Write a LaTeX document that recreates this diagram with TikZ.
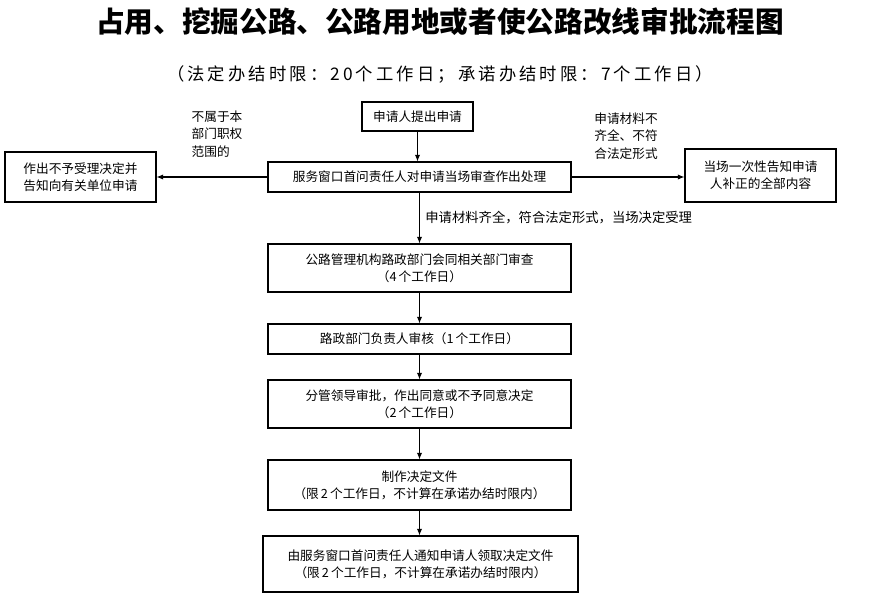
\documentclass[tikz,border=0pt]{standalone}
\usepackage{fontspec}
\setmainfont{Noto Sans CJK SC}
\usetikzlibrary{arrows.meta}
\begin{document}
\begin{tikzpicture}[x=0.75pt,y=-0.75pt,
  bx/.style={draw,thick,align=center,inner sep=0pt,font=\fontsize{9.5pt}{13pt}\selectfont},
  lb/.style={align=left,font=\fontsize{9.5pt}{13pt}\selectfont,inner sep=0pt},
  ar/.style={-{Latex[length=5pt,width=4pt]},thick}]
\useasboundingbox (0,0) rectangle (872,603);
\node[font=\bfseries\fontsize{21.5pt}{24pt}\selectfont] (t) at (440,22) {占用、挖掘公路、公路用地或者使公路改线审批流程图};
\node[font=\fontsize{13pt}{15pt}\selectfont\addfontfeature{LetterSpace=18}] (st) at (440,74) {（法定办结时限：20\,个工作日；承诺办结时限：7\,个工作日）};
\node[bx,minimum width=83.25pt,minimum height=21.75pt] (a) at (417.5,116.5) {申请人提出申请};
\node[bx,minimum width=227.25pt,minimum height=22.5pt] (b) at (419.5,177) {服务窗口首问责任人对申请当场审查作出处理};
\node[bx,minimum width=113.25pt,minimum height=37.5pt] (l) at (80.5,177) {作出不予受理决定并\\告知向有关单位申请};
\node[bx,minimum width=113.25pt,minimum height=39.75pt] (r) at (760.5,175.5) {当场一次性告知申请\\人补正的全部内容};
\node[lb] (ll) at (217,134) {不属于本\\部门职权\\范围的};
\node[lb] (rl) at (626,136) {申请材料不\\齐全、不符\\合法定形式};
\node[bx,minimum width=227.25pt,minimum height=36pt] (c) at (419.5,268) {公路管理机构路政部门会同相关部门审查\\（4\,个工作日）};
\node[bx,minimum width=227.25pt,minimum height=22.5pt] (d) at (419.5,339) {路政部门负责人审核（1\,个工作日）};
\node[bx,minimum width=227.25pt,minimum height=36pt] (e) at (419.5,404) {分管领导审批，作出同意或不予同意决定\\（2\,个工作日）};
\node[bx,minimum width=227.25pt,minimum height=37.5pt] (f) at (419.5,485) {制作决定文件\\（限\,2\,个工作日，不计算在承诺办结时限内）};
\node[bx,minimum width=236.25pt,minimum height=42pt] (g) at (420.5,564) {由服务窗口首问责任人通知申请人领取决定文件\\（限\,2\,个工作日，不计算在承诺办结时限内）};
\draw[ar] (a.south) -- (a.south|-b.north);
\draw[ar] (b.west) -- (l.east|-b.west);
\draw[ar] (b.east) -- (r.west|-b.east);
\draw[ar] (b.south) -- (c.north) node[pos=0.5,right=4pt,lb,font=\fontsize{10pt}{13pt}\selectfont] (cl) {申请材料齐全，符合法定形式，当场决定受理};
\draw[ar] (c) -- (d);
\draw[ar] (d) -- (e);
\draw[ar] (e) -- (f);
\draw[ar] (f) -- (f.south|-g.north);
\end{tikzpicture}
\end{document}
